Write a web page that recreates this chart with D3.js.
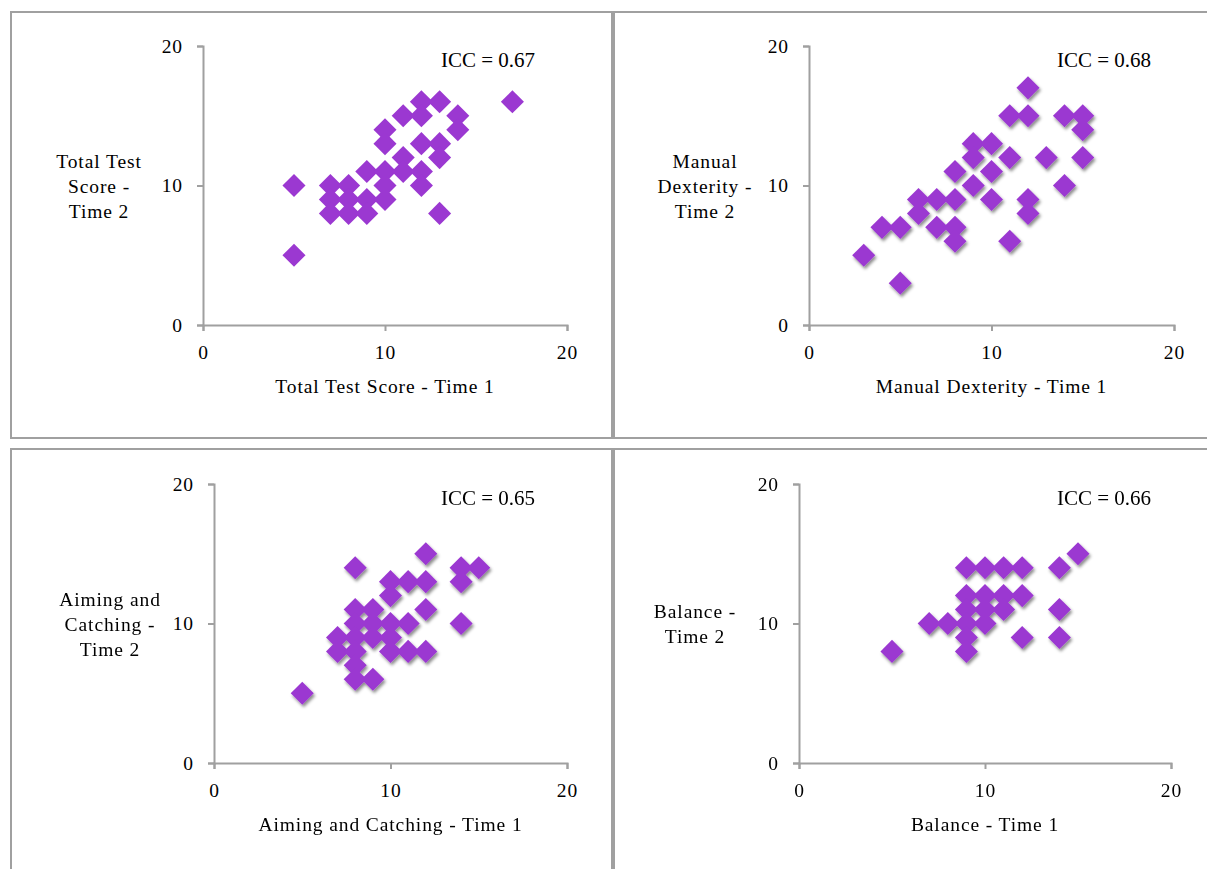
<!DOCTYPE html>
<html>
<head>
<meta charset="utf-8">
<script src="https://cdn.jsdelivr.net/npm/d3@7"></script>
<style>
  body { margin: 0; background: #fff; }
  .lbl { font-family: "Liberation Serif", serif; font-size: 19.5px; letter-spacing: 0.9px; fill: #000; }
  .icc { font-family: "Liberation Serif", serif; font-size: 21px; fill: #000; }
  .axis path, .axis line { stroke: #a0a0a0; stroke-width: 2; }
</style>
</head>
<body>
<script>
var W = 1207, H = 869
var color = '#9b38d1'

var ticks = [0, 10, 20]

// Time 1 / Time 2 pairs
var totalTest = [[5,10],[5,5],[7,10],[7,9],[7,8],[8,10],[8,9],[8,8],[9,11],[9,9],[9,8],
  [10,14],[10,13],[10,11],[10,10],[10,9],[11,15],[11,12],[11,11],[12,16],[12,15],[12,13],
  [12,11],[12,10],[13,16],[13,13],[13,12],[13,8],[14,15],[14,14],[17,16]]
var manual = [[3,5],[5,3],[4,7],[5,7],[6,8],[6,9],[7,9],[7,7],[8,9],[8,7],[8,6],[8,11],
  [9,13],[9,12],[9,10],[10,13],[10,11],[10,9],[11,15],[11,12],[11,6],[12,17],[12,15],
  [12,9],[12,8],[13,12],[14,15],[14,10],[15,15],[15,14],[15,12]]
var aiming = [[5,5],[8,14],[12,15],[10,13],[11,13],[12,13],[10,12],[14,14],[15,14],[14,13],
  [12,11],[14,10],[8,11],[9,11],[8,10],[9,10],[10,10],[11,10],[7,9],[7,8],[8,9],[9,9],
  [10,9],[8,8],[10,8],[11,8],[12,8],[8,7],[8,6],[9,6]]
var balance = [[5,8],[7,10],[8,10],[9,14],[10,14],[11,14],[12,14],[14,14],[15,15],[9,12],
  [10,12],[11,12],[12,12],[9,11],[10,11],[11,11],[9,10],[10,10],[9,9],[9,8],[12,9],
  [14,11],[14,9]]

var titlesX = ['Total Test Score - Time 1', 'Manual Dexterity - Time 1',
  'Aiming and Catching - Time 1', 'Balance - Time 1']
var titlesY = [['Total Test', 'Score -', 'Time 2'], ['Manual', 'Dexterity -', 'Time  2'],
  ['Aiming and', 'Catching -', 'Time 2'], ['Balance -', 'Time 2']]
var iccs = ['ICC = 0.67', 'ICC = 0.68', 'ICC = 0.65', 'ICC = 0.66']

var panels = [
  {data: totalTest, box: [11, 12, 612, 438], x: [203, 567], y: [325, 46], iccRight: 535, shadow: false},
  {data: manual, box: [614, 12, 1215, 438], x: [809, 1174], y: [325, 46], iccRight: 1151, shadow: true},
  {data: aiming, box: [11, 449, 612, 880], x: [214, 567], y: [763, 484], iccRight: 535, shadow: true},
  {data: balance, box: [614, 449, 1215, 880], x: [799, 1171], y: [763, 484], iccRight: 1151, shadow: true}
]

var svg = d3.select('body').append('svg')
  .attr('width', W)
  .attr('height', H)

var f = svg.append('defs').append('filter').attr('id', 'shadow')
  .attr('x', '-50%').attr('y', '-50%').attr('width', '200%').attr('height', '200%')
f.append('feDropShadow')
  .attr('dx', 1.5).attr('dy', 2.5).attr('stdDeviation', 1.6)
  .attr('flood-color', '#000').attr('flood-opacity', 0.45)

var diamond = d3.symbol().type(d3.symbolSquare).size(266)

panels.forEach(function(p, i) {
  var b = p.box
  svg.append('rect')
    .attr('x', b[0]).attr('y', b[1])
    .attr('width', b[2] - b[0]).attr('height', b[3] - b[1])
    .attr('fill', 'none').attr('stroke', '#a0a0a0').attr('stroke-width', 2)

  var x = d3.scaleLinear().domain([0, 20]).range(p.x)
  var y = d3.scaleLinear().domain([0, 20]).range(p.y)

  svg.append('g').attr('class', 'axis')
    .attr('transform', 'translate(0,' + p.y[0] + ')')
    .call(d3.axisBottom(x).tickValues(ticks).tickSize(6).tickPadding(14))
  svg.append('g').attr('class', 'axis')
    .attr('transform', 'translate(' + p.x[0] + ',0)')
    .call(d3.axisLeft(y).tickValues(ticks).tickSize(6).tickPadding(14))
  svg.selectAll('.axis text').attr('class', 'lbl').attr('font-family', null).attr('font-size', null)

  var g = svg.append('g')
  if (p.shadow) g.attr('filter', 'url(#shadow)')
  g.selectAll('path')
    .data(p.data)
    .enter().append('path')
    .attr('d', diamond)
    .attr('fill', color)
    .attr('transform', function(d) { return 'translate(' + x(d[0]) + ',' + y(d[1]) + ') rotate(45)' })

  svg.append('text').attr('class', 'icc')
    .attr('x', p.iccRight).attr('y', y(20) + 21)
    .attr('text-anchor', 'end')
    .text(iccs[i])

  svg.append('text').attr('class', 'lbl')
    .attr('x', x(10)).attr('y', p.y[0] + 68)
    .attr('text-anchor', 'middle')
    .text(titlesX[i])

  var lines = titlesY[i]
  var cy = y(10)
  svg.append('g').selectAll('text')
    .data(lines)
    .enter().append('text')
    .attr('class', 'lbl')
    .attr('x', p.x[0] - 104)
    .attr('y', function(d, k) { return cy + 7 + (k - (lines.length - 1) / 2) * 25 })
    .attr('text-anchor', 'middle')
    .text(function(d) { return d })
})
</script>
</body>
</html>
